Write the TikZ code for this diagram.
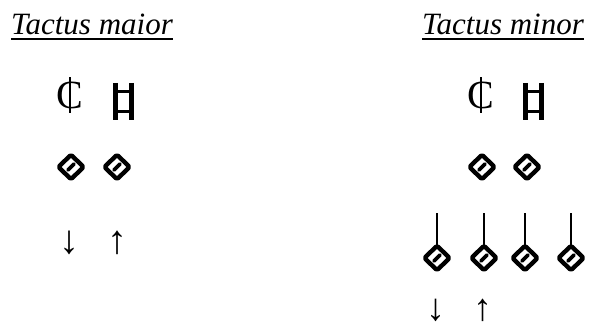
\documentclass[tikz,border=0pt]{standalone}
\usepackage{fontspec}
\setmainfont{Liberation Serif}
\usetikzlibrary{positioning}
\tikzset{
  heading/.style={font=\fontsize{31}{36}\selectfont\itshape, inner sep=0pt, anchor=base west},
  uline/.style={line width=2pt},
  beat/.style={font=\fontsize{40}{44}\selectfont, inner sep=0pt},
  notehead/.style={line width=4.4pt, rounded corners=1.5pt, line join=round, fill=white},
  semibreve/.pic={
    \draw[notehead] (-12.6,0) -- (0,-12.2) -- (12.6,0) -- (0,12.2) -- cycle;
    \draw[line width=3.6pt, line cap=round] (-3.2,3.2) -- (3.2,-3.2);
  },
  minim/.pic={
    \draw[line width=2.8pt] (0,-12) -- (0,-45);
    \draw[notehead] (-12.6,0) -- (0,-12.2) -- (12.6,0) -- (0,12.2) -- cycle;
    \draw[line width=3.6pt, line cap=round] (-3.2,3.2) -- (3.2,-3.2);
  },
  cutc/.pic={
    \node[font=\fontsize{40}{44}\selectfont, inner sep=0pt](-c){C};
    \draw[line width=1.4pt] (0,-17.5) -- (0,17.5);
  },
  breve/.pic={
    \draw[line width=5pt] (-8,-18.5) -- (-8,18.5) (8,-18.5) -- (8,18.5);
    \draw[line width=3pt] (-8,-9.5) -- (8,-9.5) (-8,9.5) -- (8,9.5);
  },
}

\begin{document}
\begin{tikzpicture}[x=1pt, y=-1pt]
  \useasboundingbox (0,0) rectangle (592,329);
  \node[heading](maior) at (11,35){Tactus maior};
  \node[heading](minor) at (422,35){Tactus minor};
  \draw[uline]([yshift=-4.3pt]maior.base west) -- ([yshift=-4.3pt]maior.base east);
  \draw[uline]([yshift=-4.3pt]minor.base west) -- ([yshift=-4.3pt]minor.base east);
  \pic (cmaior) at (70,95) {cutc};
  \pic (bmaior) at (123,101.5) {breve};
  \pic (smaior1) at (71,167) {semibreve};
  \pic (smaior2) at (117,167) {semibreve};
  \node[beat](downmaior) at (69,242.5){↓};
  \node[beat](upmaior) at (117,242.5){↑};
  \pic (cminor) at (481,95) {cutc};
  \pic (bminor) at (533,101.5) {breve};
  \pic (sminor1) at (482,167) {semibreve};
  \pic (sminor2) at (527,167) {semibreve};
  \pic (mminor1) at (437,258) {minim};
  \pic (mminor2) at (484,258) {minim};
  \pic (mminor3) at (525,258) {minim};
  \pic (mminor4) at (571,258) {minim};
  \node[beat, font=\fontsize{38}{42}\selectfont](downminor) at (436,310){↓};
  \node[beat, font=\fontsize{38}{42}\selectfont](upminor) at (483,310){↑};
\end{tikzpicture}
\end{document}
